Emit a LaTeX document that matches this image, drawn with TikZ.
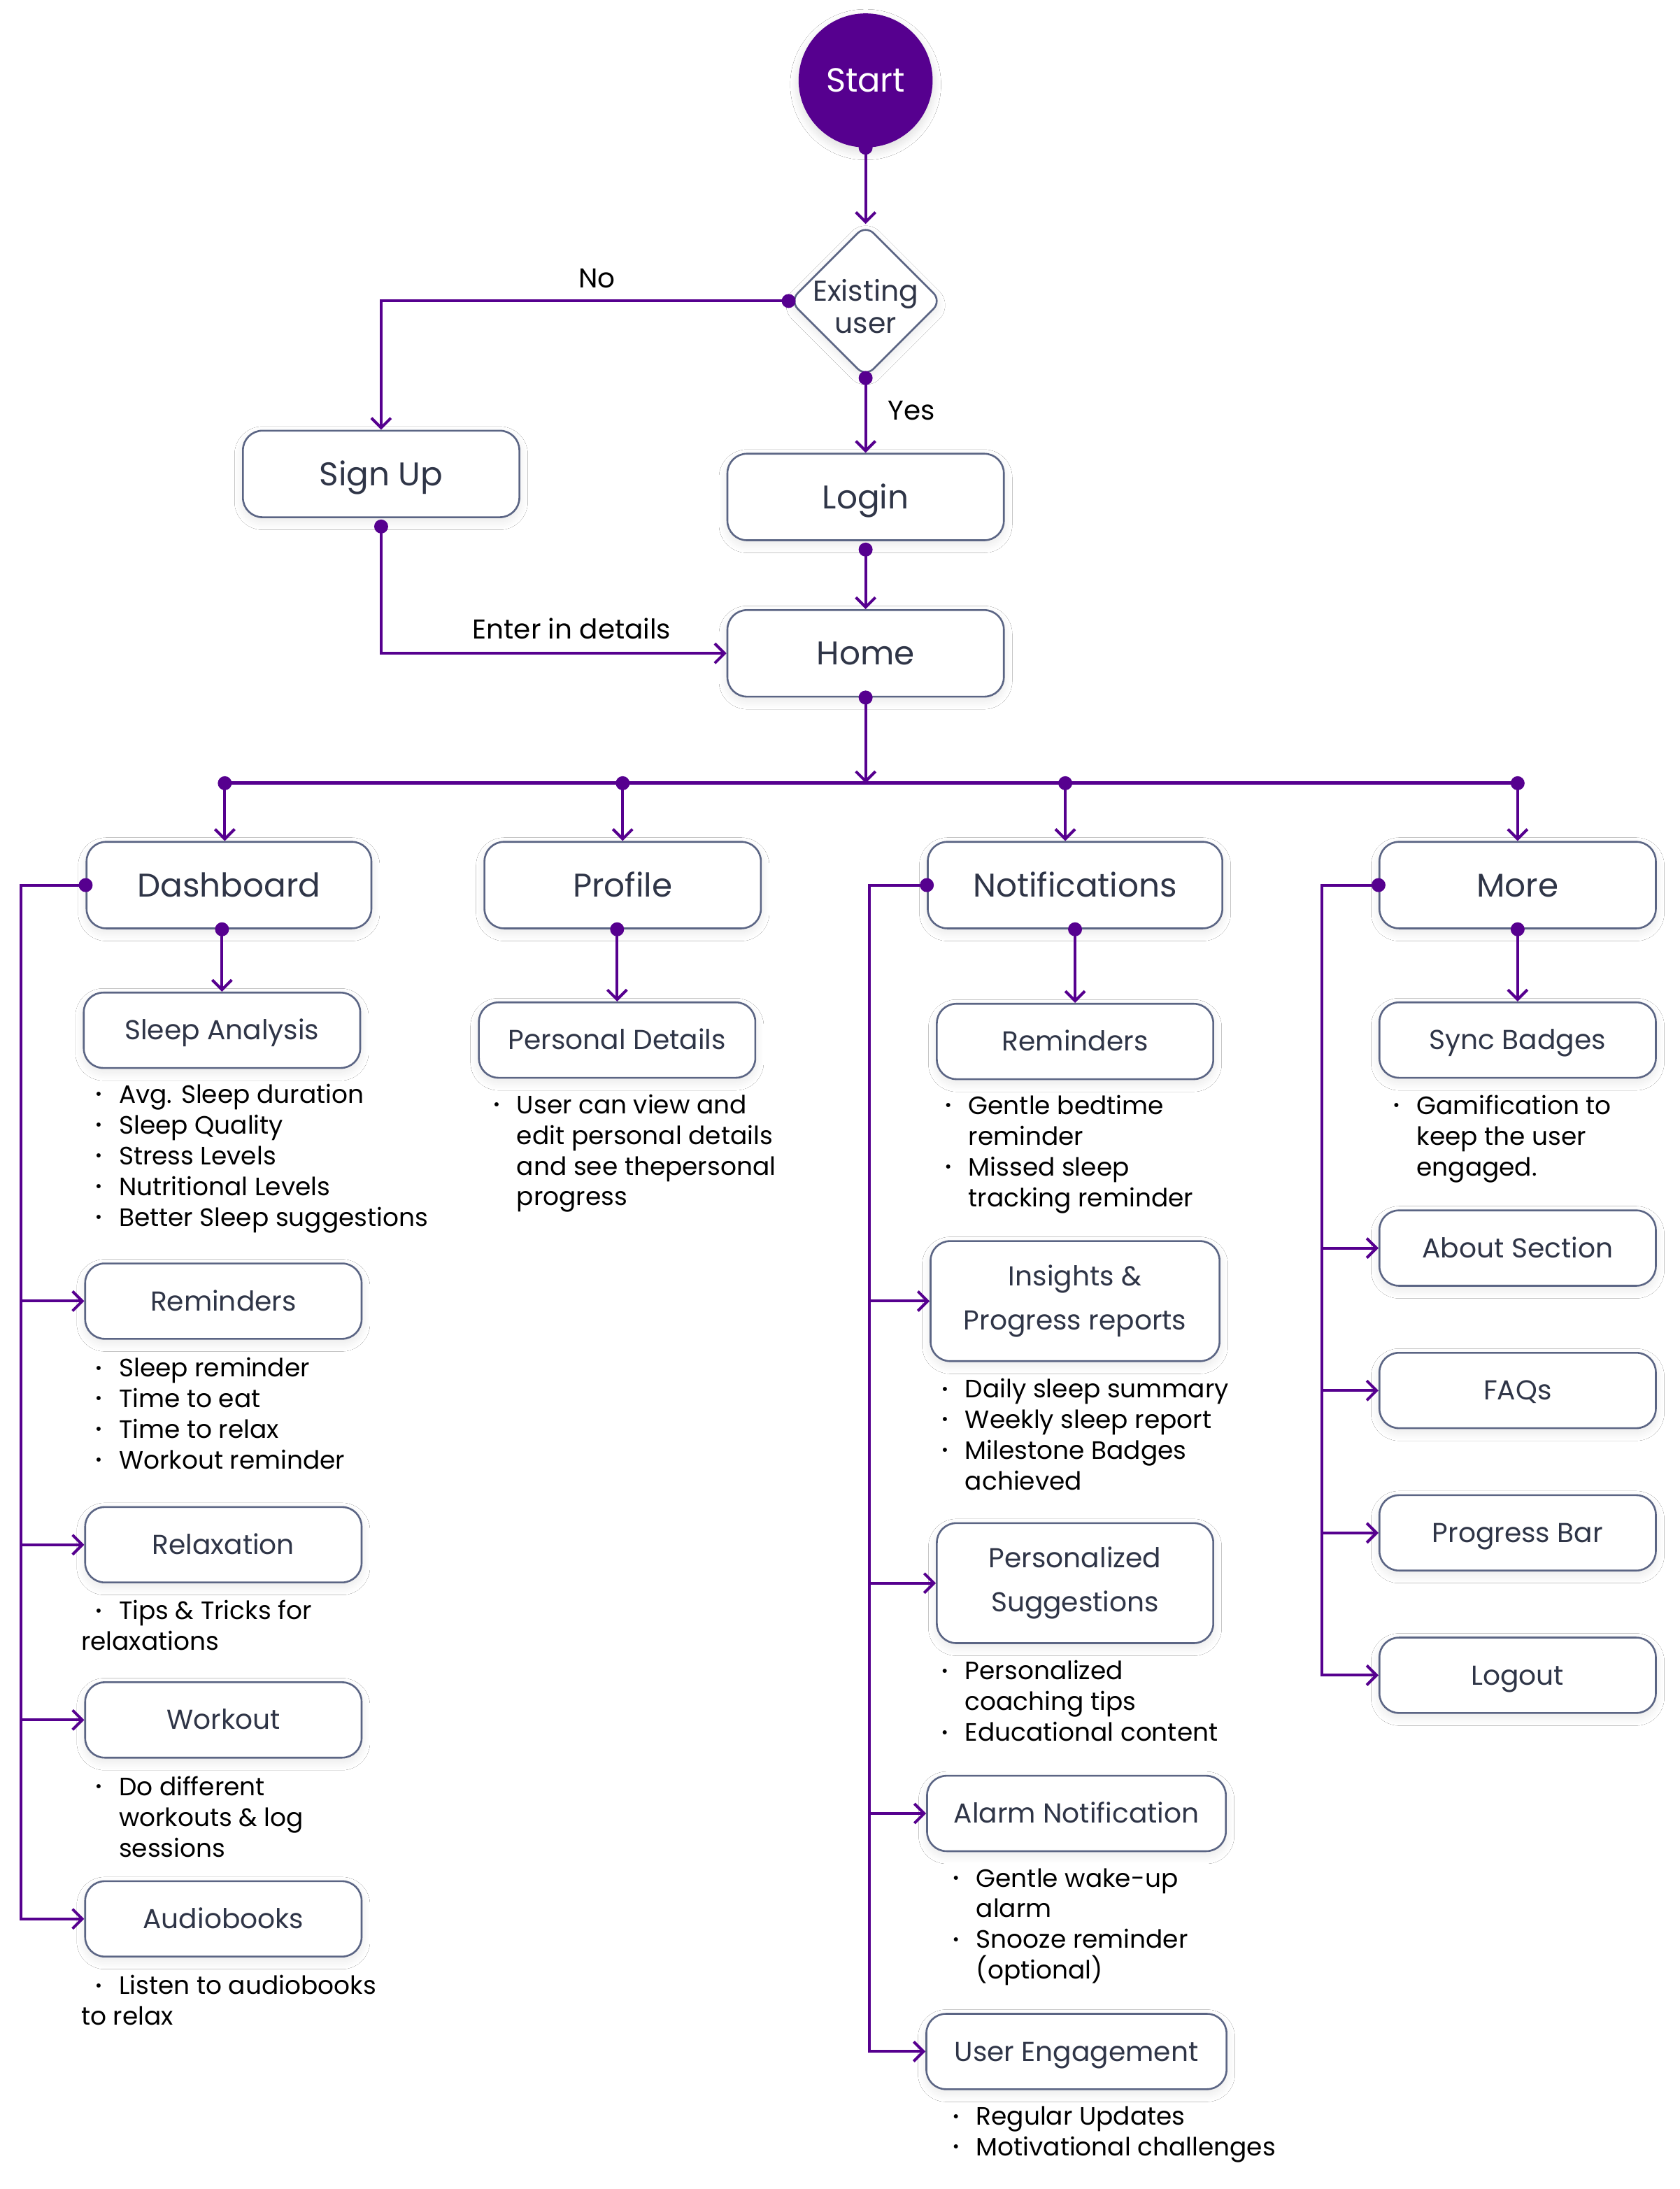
\documentclass[tikz,border=0pt]{standalone}
\usepackage{fontspec}
\setmainfont{Poppins}
\usetikzlibrary{arrows.meta,shapes.geometric,shadows.blur}
\definecolor{flowc}{HTML}{56008F}
\definecolor{boxline}{HTML}{5B6584}
\definecolor{boxtext}{HTML}{2F3547}
\newcommand{\bul}{\makebox[0pt][c]{\raisebox{2.3pt}{\fontsize{12}{12}\selectfont\textbullet}}\hspace*{14.5pt}}
\newcommand{\bgap}{\hspace*{14.5pt}}
\tikzset{
  boxbase/.style={draw=boxline,line width=1.3pt,fill=white,rounded corners=14pt,text=boxtext,inner sep=0pt,
    minimum width=198pt,blur shadow={shadow xshift=0pt,shadow yshift=-3pt,shadow blur radius=6pt,shadow blur steps=16,shadow opacity=9}},
  mainbox/.style={boxbase,minimum height=62pt,font=\fontsize{23.5}{30}\selectfont,text height=16.5pt,text depth=0pt},
  subbox/.style={boxbase,minimum height=54pt,font=\fontsize{19.6}{24}\selectfont,text height=13.7pt,text depth=0pt},
  tallbox/.style={boxbase,minimum height=86pt,align=center,font=\fontsize{19.6}{31.5}\selectfont},
  startnode/.style={circle,fill=flowc,text=white,minimum size=96pt,inner sep=0pt,font=\fontsize{24}{28}\selectfont,
    text height=16.8pt,text depth=0pt,blur shadow={shadow xshift=0pt,shadow yshift=-3pt,shadow blur radius=6pt,shadow blur steps=16,shadow opacity=14}},
  decision/.style={diamond,aspect=1,draw=boxline,line width=1.3pt,fill=white,rounded corners=8pt,minimum width=109pt,
    minimum height=109pt,inner sep=0pt,text=boxtext,font=\fontsize{20.5}{23}\selectfont,
    blur shadow={shadow xshift=0pt,shadow yshift=-3pt,shadow blur radius=6pt,shadow blur steps=16,shadow opacity=9}},
  notes/.style={anchor=north west,inner sep=0pt,align=left,text=black,font=\fontsize{18}{22}\selectfont},
  lbl/.style={inner sep=0pt,text=black,font=\fontsize{19.5}{22}\selectfont},
  flow/.style={draw=flowc,line width=2pt,-{Straight Barb[length=7pt,width=14pt]}},
  link/.style={draw=flowc,line width=2pt}
}
\begin{document}
\begin{tikzpicture}[x=1pt,y=-1pt]
\path[use as bounding box,fill=white] (0,0) rectangle (1203,1568);

\node[startnode] (start) at (620,57.6) {Start};
\node[decision] (existing) at (620,215.6) {\smash{\makebox[0pt]{\begin{tabular}[t]{@{}c@{}}Existing\\user\end{tabular}}}};
\node[mainbox] (signup) at (273,339.5) {Sign Up};
\node[mainbox] (login) at (620,356) {Login};
\node[mainbox] (home) at (620,468) {Home};

\node[mainbox,minimum width=204pt] (dash) at (164,634) {Dashboard};
\node[mainbox] (profile) at (446,634) {Profile};
\node[mainbox,minimum width=211pt] (notif) at (770,634) {Notifications};
\node[mainbox] (more) at (1087,634) {More};

\node[subbox] (sleep) at (159,738) {Sleep Analysis};
\node[subbox] (dremind) at (160,932) {Reminders};
\node[subbox] (relax) at (160,1106.5) {Relaxation};
\node[subbox] (workout) at (160,1232) {Workout};
\node[subbox] (audio) at (160,1374.5) {Audiobooks};

\node[subbox] (pdetails) at (442,745) {Personal Details};

\node[subbox] (nremind) at (770,746) {Reminders};
\node[tallbox,minimum width=207pt] (insights) at (770,932) {Insights \&\\Progress reports};
\node[tallbox] (personal) at (770,1134) {Personalized\\Suggestions};
\node[subbox,minimum width=214pt] (alarm) at (771,1299) {Alarm Notification};
\node[subbox,minimum width=215pt] (engage) at (771,1469.5) {User Engagement};

\node[subbox] (sync) at (1087,745) {Sync Badges};
\node[subbox] (about) at (1087,894) {About Section};
\node[subbox] (faqs) at (1087,996) {FAQs};
\node[subbox] (pbar) at (1087,1098) {Progress Bar};
\node[subbox] (logout) at (1087,1200) {Logout};

\node[notes] (nsleep) at (70.5,774.6) {\strut\bul Avg. Sleep duration\\\bul Sleep Quality\\\bul Stress Levels\\\bul Nutritional Levels\\\bul Better Sleep suggestions};
\node[notes] (ndremind) at (70.5,970.6) {\strut\bul Sleep reminder\\\bul Time to eat\\\bul Time to relax\\\bul Workout reminder};
\node[notes] (nrelax) at (58,1144.6) {\strut\hspace*{12.5pt}\bul Tips \& Tricks for\\relaxations};
\node[notes] (nworkout) at (70.5,1270.6) {\strut\bul Do different\\\bgap workouts \& log\\\bgap sessions};
\node[notes] (naudio) at (58,1413) {\strut\hspace*{12.5pt}\bul Listen to audiobooks\\to relax};
\node[notes] (npdetails) at (355.5,782) {\strut\bul User can view and\\\bgap edit personal details\\\bgap and see thepersonal\\\bgap progress};
\node[notes] (nnremind) at (679,782.6) {\strut\bul Gentle bedtime\\\bgap reminder\\\bul Missed sleep\\\bgap tracking reminder};
\node[notes] (ninsights) at (676.6,985.6) {\strut\bul Daily sleep summary\\\bul Weekly sleep report\\\bul Milestone Badges\\\bgap achieved};
\node[notes] (npersonal) at (676.5,1187.6) {\strut\bul Personalized\\\bgap coaching tips\\\bul Educational content};
\node[notes] (nalarm) at (684.5,1336) {\strut\bul Gentle wake-up\\\bgap alarm\\\bul Snooze reminder\\\bgap (optional)};
\node[notes] (nengage) at (684.5,1506.6) {\strut\bul Regular Updates\\\bul Motivational challenges};
\node[notes] (nsync) at (1000,782.6) {\strut\bul Gamification to\\\bgap keep the user\\\bgap engaged.};

\coordinate (hub) at (620,561);
\coordinate (b1) at (161,561);
\coordinate (b2) at (446,561);
\coordinate (b3) at (763,561);
\coordinate (b4) at (1087,561);
\coordinate (lbus) at (15,634);
\coordinate (nbus) at (622.7,634);
\coordinate (mbus) at (946.7,634);

\draw[flow] (start.south) -- (existing.north);
\draw[flow] (existing.west) -| node[lbl,above=8.5pt,pos=0.235] {No} (signup.north);
\draw[flow] (existing.south) -- node[lbl,right=15pt,pos=0.44] {Yes} (login.north);
\draw[flow] ([yshift=-6pt]signup.south) |- node[lbl,above=9pt,pos=0.776] {Enter in details} (home.west);
\draw[flow] ([yshift=-6pt]login.south) -- (home.north);
\draw[flow] (home.south) -- (hub);
\draw[link,line width=2.4pt] (b1) -- (b4);
\foreach \b/\n in {b1/dash,b2/profile,b3/notif,b4/more}
  \draw[flow] (\b) -- (\b |- \n.north);
\draw[flow] (sleep.north |- dash.south) -- (sleep.north);
\draw[flow] (pdetails.north |- profile.south) -- (pdetails.north);
\draw[flow] (notif.south) -- (nremind.north);
\draw[flow] (more.south) -- (sync.north);
\foreach \n in {dremind,relax,workout,audio}
  \draw[flow] (dash.west) -- (lbus) |- (\n.west);
\foreach \n in {insights,personal,alarm,engage}
  \draw[flow] (notif.west) -- (nbus) |- (\n.west);
\foreach \n in {about,faqs,pbar,logout}
  \draw[flow] (more.west) -- (mbus) |- (\n.west);

\foreach \p in {start.south,existing.west,existing.south,home.south,dash.west,notif.west,notif.south,more.west,more.south,b1,b2,b3,b4}
  \fill[flowc] (\p) circle (5pt);
\fill[flowc] ([yshift=-6pt]signup.south) circle (5pt);
\fill[flowc] ([yshift=-6pt]login.south) circle (5pt);
\fill[flowc] (sleep.north |- dash.south) circle (5pt);
\fill[flowc] (pdetails.north |- profile.south) circle (5pt);
\end{tikzpicture}
\end{document}
